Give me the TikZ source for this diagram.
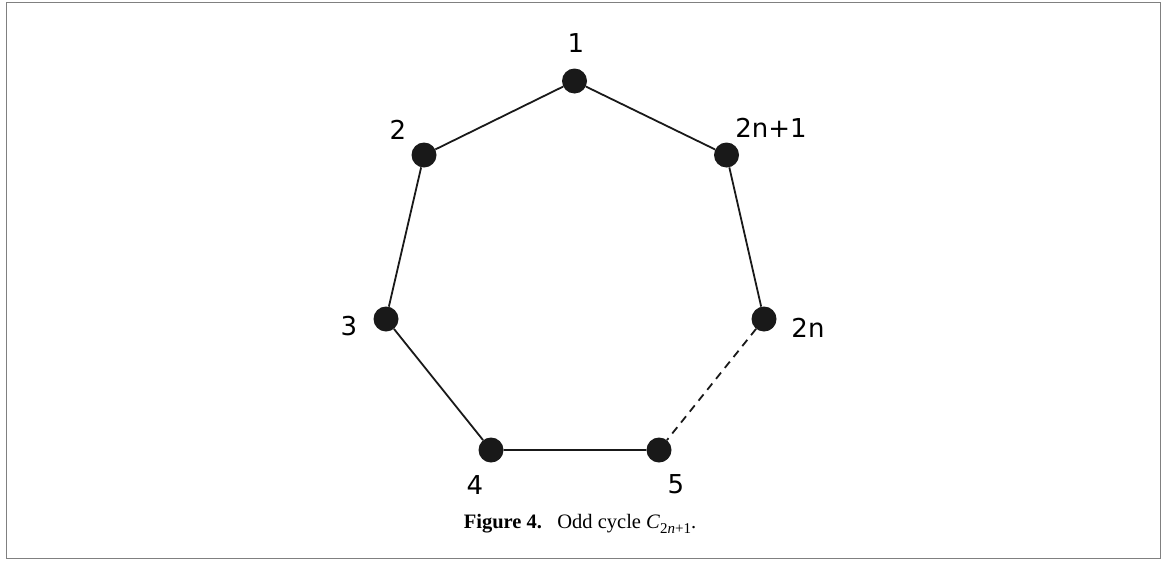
\documentclass[tikz,border=0pt]{standalone}
\usepackage{fontspec}
\setmainfont{Liberation Serif}
\newfontfamily\labfont{DejaVu Sans}
\begin{document}
\begin{tikzpicture}[x=1pt,y=-1pt,
  vtx/.style={circle,fill=black!90,inner sep=0pt,minimum size=25pt},
  lab/.style={font=\labfont\fontsize{26}{30}\selectfont,inner sep=0pt,anchor=center},
  edge/.style={line width=1.8pt,black!90},
  frame/.style={draw=black!50,line width=1.6pt}]
\useasboundingbox (0,0) rectangle (1165,560);
\draw[frame] (6.5,2.5) rectangle (1160.5,558.5);
\node[vtx] (v1) at (574.5,81) {};
\node[vtx] (v2) at (424,155) {};
\node[vtx] (v3) at (386,319) {};
\node[vtx] (v4) at (491,450) {};
\node[vtx] (v5) at (659,450) {};
\node[vtx] (v6) at (764,319) {};
\node[vtx] (v7) at (726.5,155) {};
\draw[edge] (v1) -- (v2) -- (v3) -- (v4) -- (v5);
\draw[edge] (v1) -- (v7) -- (v6);
\draw[edge,dash pattern=on 8pt off 6pt] (v6) -- (v5);
\node[lab] (l1) at (576,43) {1};
\node[lab] (l2) at (398,130) {2};
\node[lab] (l3) at (349,326) {3};
\node[lab] (l4) at (475,485) {4};
\node[lab] (l5) at (676,484) {5};
\node[lab] (l6) at (808,328) {2n};
\node[lab] (l7) at (771,128) {2n+1};
\node (cap) at (580,524) {\fontsize{20.5}{24}\selectfont\textbf{Figure 4.}\hspace{0.75em}Odd cycle \textit{C}\raisebox{-0.28em}{\fontsize{15}{17}\selectfont 2\textit{n}+1}.};
\end{tikzpicture}
\end{document}
